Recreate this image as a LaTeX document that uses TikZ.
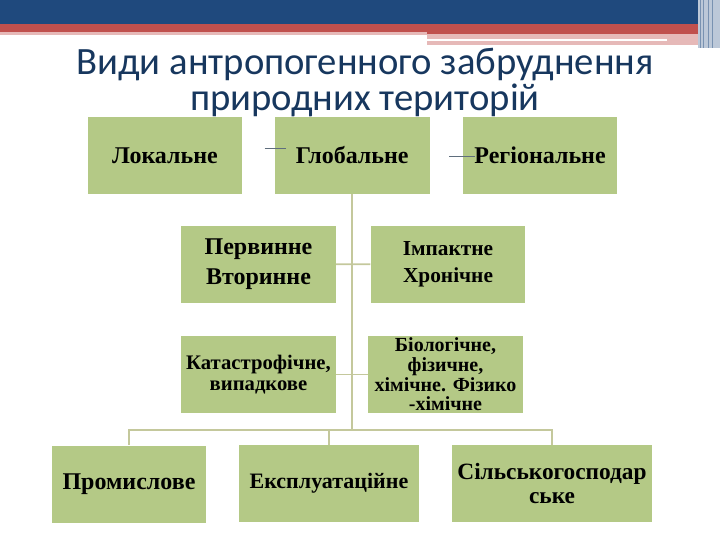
\documentclass[tikz,border=0pt]{standalone}
\usepackage{fontspec}
\setmainfont{Liberation Serif}
\newfontfamily\titlefont{Carlito}
\usepackage{xcolor}
\usetikzlibrary{positioning, calc}

\definecolor{headblue}{RGB}{31,73,125}
\definecolor{headred}{RGB}{192,80,77}
\definecolor{headpink}{RGB}{230,185,184}
\definecolor{titleblue}{RGB}{23,55,94}
\definecolor{boxgreen}{RGB}{180,201,134}
\definecolor{linkgreen}{RGB}{196,200,156}
\definecolor{stubgray}{RGB}{95,110,125}

\begin{document}
\begin{tikzpicture}[x=0.75pt, y=-0.75pt, node distance=24pt,
  box/.style={fill=boxgreen, minimum height=57.75pt, minimum width=116pt, inner xsep=0pt, inner ysep=1pt, align=center, font=\bfseries\fontsize{18}{22}\selectfont},
  small/.style={font=\bfseries\fontsize{15}{14.8}\selectfont},
  link/.style={draw=linkgreen, line width=1.4pt},
  stub/.style={draw=stubgray, line width=0.7pt},
  heading/.style={text=titleblue, font=\titlefont\fontsize{29}{27}\selectfont, anchor=base, inner sep=0pt}]

  \useasboundingbox (0,0) rectangle (720,540);
  % header bars
  \fill[headblue] (0,0) rectangle (720,24);
  \fill[headred] (0,24) rectangle (427,32);
  \fill[headpink] (0,32) rectangle (427,35);
  \fill[headred] (427,24) rectangle (698,34);
  \fill[headpink] (427,34) rectangle (698,45);
  \fill[white] (427,39) rectangle (667,41);
  \fill[headblue!30] (698,0) rectangle (720,48);
  \foreach \x in {700,703,708,712}
    \draw[headblue!60, line width=0.6pt] (\x,0) -- (\x,48);

  \node[heading] (title) at (365,74) {Види антропогенного забруднення};
  \node[heading] (subtitle) at (365,110) {природних територій};

  % top row
  \node[box] (loc) at (165,155.5) {Локальне};
  \node[box, right=24pt of loc] (glob) {Глобальне};
  \node[box, right=24.5pt of glob] (reg) {Регіональне};

  % middle
  \node[box, font=\bfseries\fontsize{18}{22.5}\selectfont] (perv) at (258.5,264.5) {Первинне\\Вторинне};
  \node[box, font=\bfseries\fontsize{16}{20}\selectfont] (imp) at (448,264) {Імпактне\\Хронічне};
  \node[box, font=\bfseries\fontsize{15.5}{15.5}\selectfont] (kat) at (258.5,374.5) {Катастрофічне,\\випадкове};
  \node[box, small, inner ysep=0pt] (bio) at (445.5,374.5) {Біологічне,\\фізичне,\\хімічне. Фізико\\-хімічне};

  % bottom row
  \node[box] (prom) at (129,484) {Промислове};
  \node[box, minimum width=135pt, font=\bfseries\fontsize{16.5}{20}\selectfont] (eksp) at (329,483.5) {Експлуатаційне};
  \node[box, minimum width=150pt, font=\bfseries\fontsize{17.5}{18}\selectfont] (silsk) at (552,483.5) {Сільськогосподар\\ське};

  \coordinate (bus) at (glob.south |- 0,430);
  \draw[link] (glob.south) -- (bus);
  \draw[link] (perv) -- (imp);
  \draw[link] (kat) -- (bio);
  \draw[link] (bus) -| (prom.north);
  \draw[link] (bus) -| (eksp.north);
  \draw[link] (bus) -| (silsk.north);

  \draw[stub] ($(glob.west)+(-10,-7.5)$) -- ++(21,0);
  \draw[stub] ($(reg.west)+(-13,0.5)$) -- ++(26,0);
\end{tikzpicture}
\end{document}
